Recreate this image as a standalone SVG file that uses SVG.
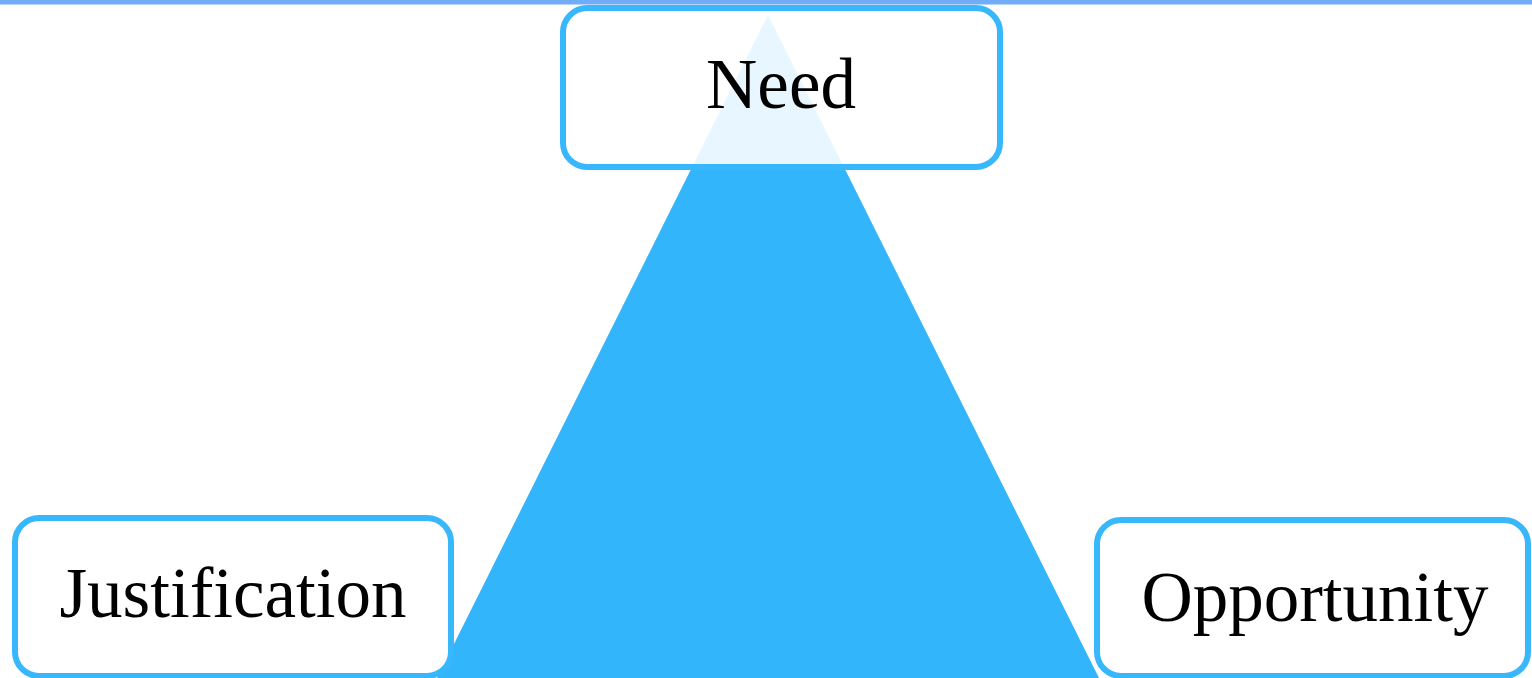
<svg xmlns="http://www.w3.org/2000/svg" width="1532" height="678" viewBox="0 0 1532 678">
<style>
.box{fill:#ffffff;fill-opacity:0.89;stroke:#38b7fc;stroke-width:6}
.lbl{font-family:"Liberation Serif","Times New Roman",serif;font-size:71px;fill:#000000;text-anchor:middle}
</style>
<rect x="0" y="0" width="1532" height="678" fill="#ffffff"/>
<rect x="0" y="0" width="1532" height="4.5" fill="#70acf7"/>
<g id="connectors">
<polygon points="768,15 437,678 1099,678" fill="#33b5fc"/>
</g>
<g id="need">
<rect class="box" x="563" y="8" width="437" height="159" rx="24"/>
<text class="lbl" x="781" y="108">Need</text>
</g>
<g id="justification">
<rect class="box" x="15" y="518" width="436" height="158" rx="24"/>
<text class="lbl" x="233" y="617">Justification</text>
</g>
<g id="opportunity">
<rect class="box" x="1097" y="520" width="431" height="156" rx="24"/>
<text class="lbl" x="1315" y="621">Opportunity</text>
</g>
</svg>
